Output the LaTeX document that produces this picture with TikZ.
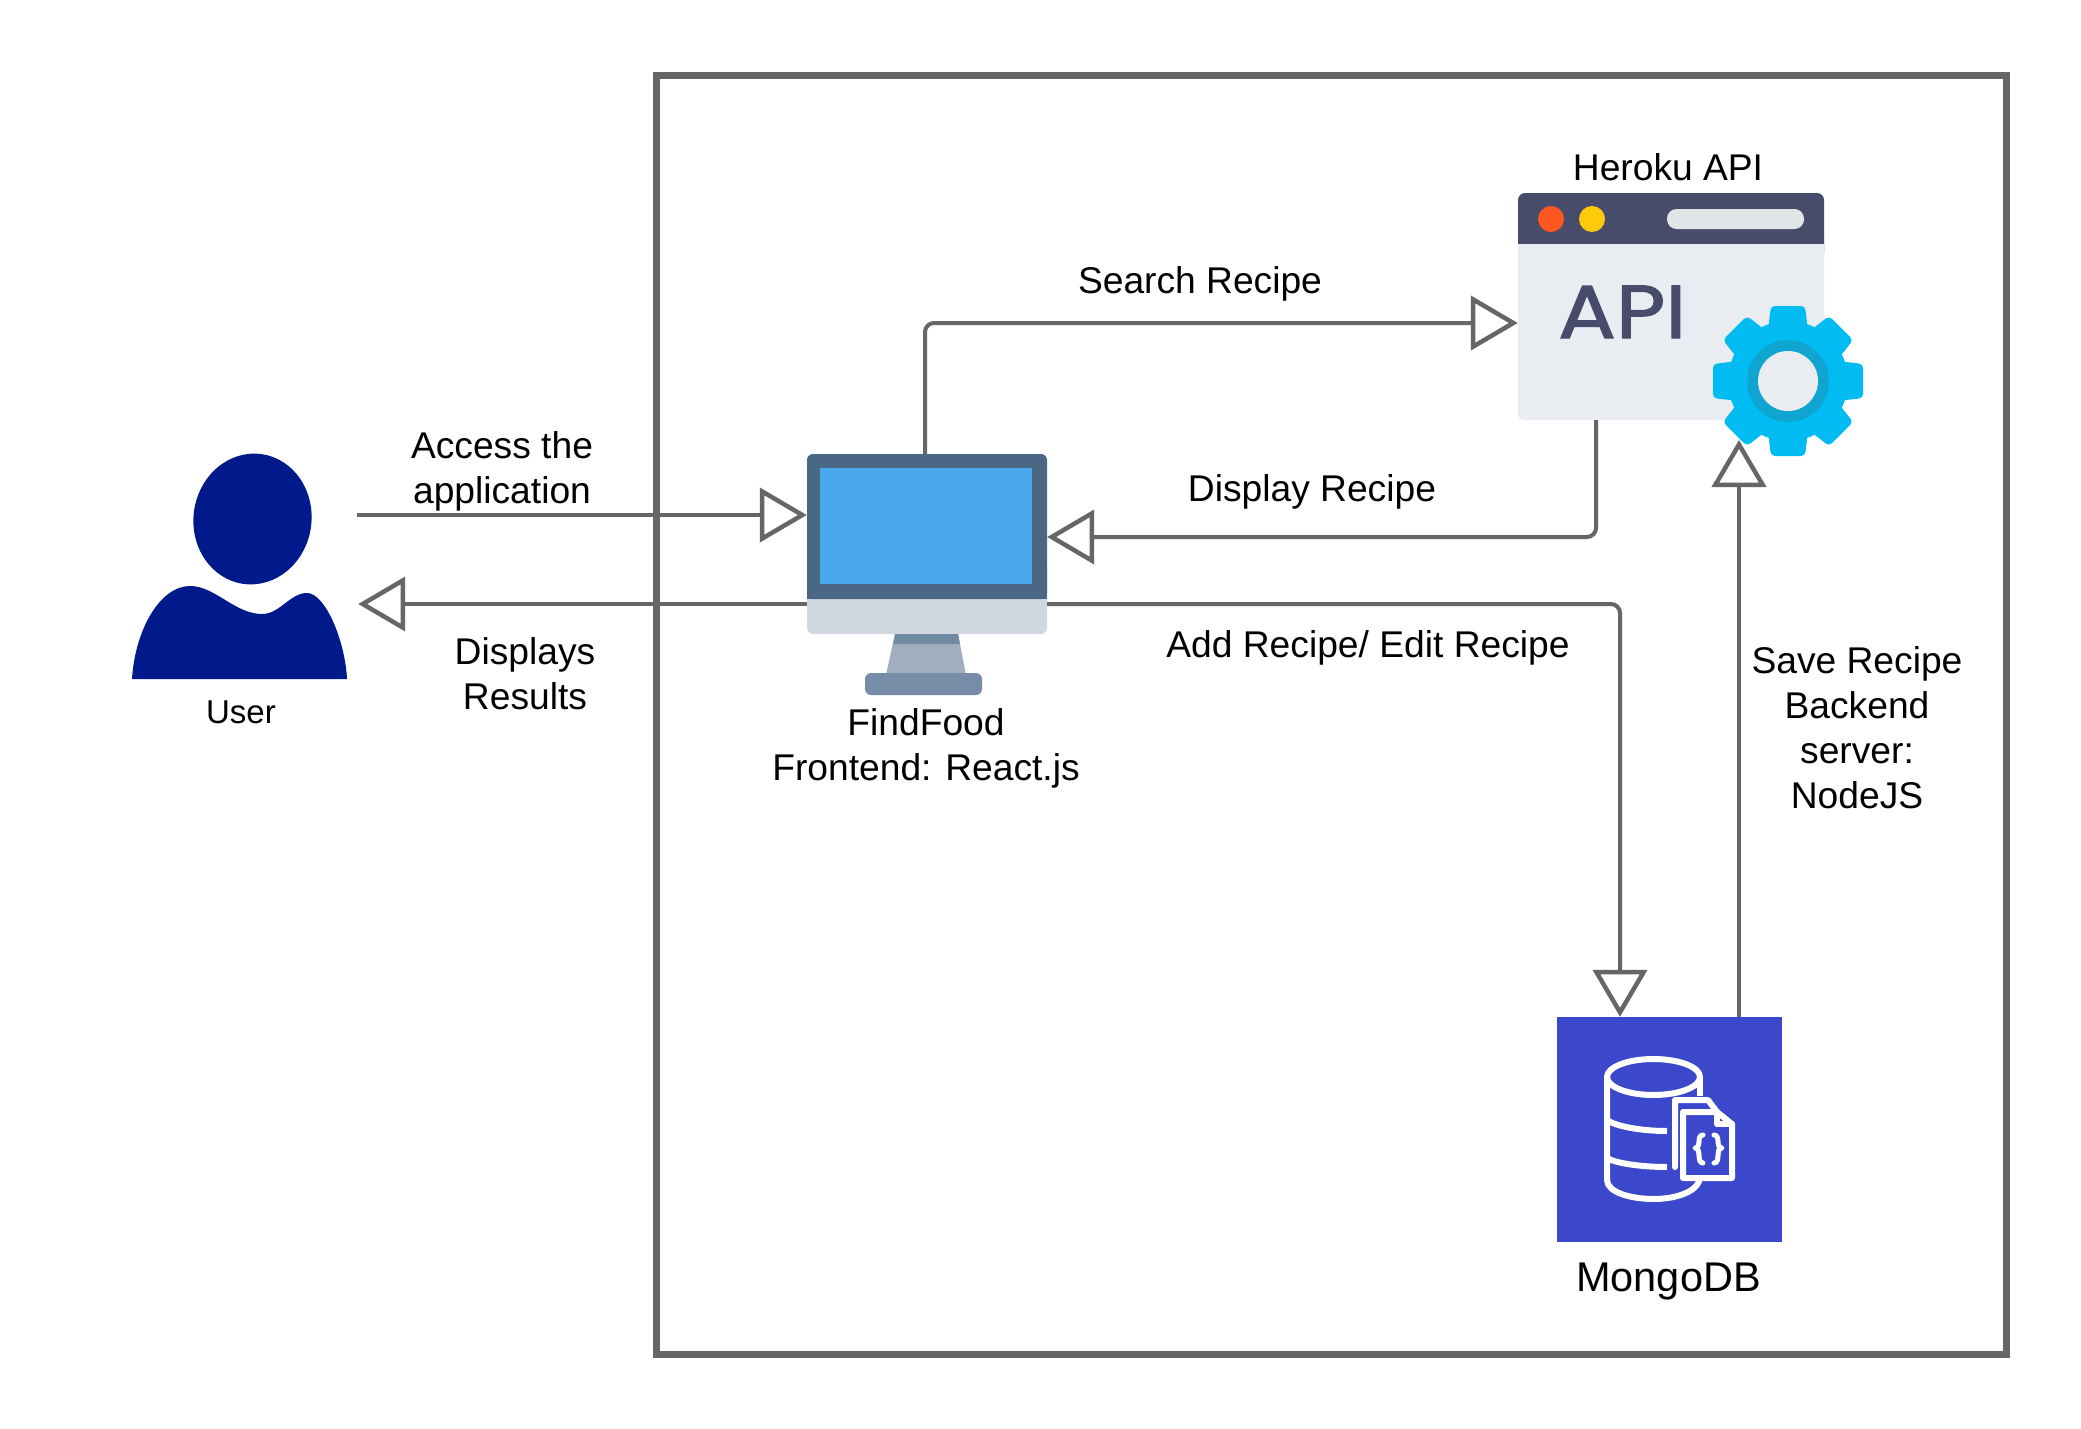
\documentclass[tikz,border=0pt]{standalone}
\usepackage{fontspec}
\setmainfont{Liberation Sans}
\newfontfamily\apifont[FakeBold=1.8,FakeStretch=1.14]{Poppins}
\usetikzlibrary{arrows.meta,calc}
\definecolor{linegrey}{HTML}{666666}
\definecolor{userblue}{HTML}{001A8C}
\definecolor{frameblue}{HTML}{4A6785}
\definecolor{screenblue}{HTML}{49A9EC}
\definecolor{chinlight}{HTML}{D0D7E0}
\definecolor{neckdark}{HTML}{708AA3}
\definecolor{neckmid}{HTML}{A0AEBF}
\definecolor{basegrey}{HTML}{778CA6}
\definecolor{apibg}{HTML}{E9EDF1}
\definecolor{apidark}{HTML}{474C6B}
\definecolor{dotred}{HTML}{FF5722}
\definecolor{dotyellow}{HTML}{FFC90C}
\definecolor{barlight}{HTML}{E1E5E8}
\definecolor{gearblue}{HTML}{00BCF2}
\definecolor{gearring}{HTML}{10A5D0}
\definecolor{mongoblue}{HTML}{3B48CC}
\tikzset{
  x=1pt,y=-1pt,
  conn/.style={draw=linegrey,line width=4pt,rounded corners=9pt,
    -{Triangle[open,length=47pt,width=54pt,line width=4.5pt,fill=white]}},
  lbl/.style={inner sep=0pt,align=center,font=\fontsize{37.2}{45}\selectfont,text=black},
  icon/.style={white,line width=6pt,line cap=round,line join=round}
}
\begin{document}
\begin{tikzpicture}
\useasboundingbox (0,0) rectangle (2081,1429);
\fill[white] (0,0) rectangle (2081,1429);
% frame
\node[draw=linegrey,line width=7pt,minimum width=1350pt,minimum height=1278.5pt,inner sep=0pt,outer sep=0pt] (frame) at (1331.5,714.75) {};
% user
\fill[userblue,rotate around={-8:(252.5,519)}] (252.5,519) ellipse [x radius=59,y radius=65.5];
\fill[userblue] (132,679) .. controls (135,630) and (160,586) .. (190,586)
  .. controls (215,586) and (235,614) .. (262,614)
  .. controls (280,614) and (290,593) .. (307,593)
  .. controls (325,593) and (345,640) .. (347,679) -- cycle;
\node[inner sep=0pt,minimum width=215pt,minimum height=225pt] (user) at (246,566) {};
\node[lbl,font=\fontsize{33}{40}\selectfont] (userlbl) at (241,712) {User};
% monitor
\fill[chinlight,rounded corners=6pt] (807,560) rectangle (1047,634);
\fill[frameblue,rounded corners=6pt] (807,454) -- (1047,454) -- (1047,599) -- (807,599) -- cycle;
\fill[frameblue] (807,580) rectangle (1047,599);
\fill[screenblue] (820,468) rectangle (1032,584);
\fill[neckmid] (895,634) -- (958,634) -- (966,675) -- (886,675) -- cycle;
\fill[neckdark] (895,634) -- (958,634) -- (960,644) -- (893,644) -- cycle;
\fill[basegrey,rounded corners=6pt] (865,673) rectangle (982,695);
\node[inner sep=0pt,minimum width=240pt,minimum height=241pt] (monitor) at (927,574.5) {};
\node[lbl] (monlbl) at (926,748) {FindFood\\Frontend: React.js};
% api window
\fill[apibg,rounded corners=6pt] (1518,230) rectangle (1824,420);
\fill[apidark,rounded corners=7pt] (1518,193) rectangle (1824,260);
\fill[apibg] (1518,244) rectangle (1824,262);
\fill[dotred] (1551,219) circle (13);
\fill[dotyellow] (1592,219) circle (13);
\fill[barlight,rounded corners=9.5pt] (1667,209) rectangle (1804,229);
\node[inner sep=0pt,anchor=base west,text=apidark,font=\apifont\fontsize{75}{75}\selectfont] (apitxt) at (1558,338) {API};
\node[inner sep=0pt,minimum width=306pt,minimum height=227pt] (api) at (1671,306.5) {};
\node[lbl] (apilbl) at (1668,167.5) {Heroku API};
% gear
\fill[gearblue] (1788,381) circle (60);
\foreach \a in {0,45,...,315}{
  \fill[gearblue,rounded corners=4pt,rotate around={\a:(1788,381)}]
    (1768,331) -- (1771,306) -- (1805,306) -- (1808,331) -- cycle;
}
\fill[gearring] (1788,381) circle (41);
\fill[apibg] (1788,381) circle (30);
% mongo
\node[fill=mongoblue,inner sep=0pt,minimum width=225pt,minimum height=225pt] (mongo) at (1669.5,1129.5) {};
\draw[icon] (1653.5,1077) ellipse [x radius=46.5,y radius=18];
\draw[icon,line cap=butt] (1607,1077) -- (1607,1180) .. controls (1607,1192) and (1630,1199) .. (1654,1199) .. controls (1675,1199) and (1700,1192) .. (1700,1176);
\draw[icon,line cap=butt] (1700,1077) -- (1700,1096);
\draw[icon,line cap=butt] (1607,1120) .. controls (1615,1126) and (1640,1131) .. (1667,1131);
\draw[icon,line cap=butt] (1607,1158) .. controls (1615,1163) and (1640,1167) .. (1667,1167);
\fill[mongoblue] (1677,1104) rectangle (1730,1176);
\draw[icon] (1675,1167) -- (1675,1100) -- (1708,1100) -- (1717,1112);
\draw[icon,fill=mongoblue] (1683,1112) -- (1717,1112) -- (1732,1124) -- (1732,1178) -- (1683,1178) -- cycle;
\draw[icon] (1717,1112) -- (1717,1124) -- (1732,1124);
\draw[icon,line width=5pt] (1703,1135) .. controls (1696,1135) and (1702,1148) .. (1695,1148) .. controls (1702,1148) and (1696,1163) .. (1703,1163);
\draw[icon,line width=5pt] (1714,1135) .. controls (1721,1135) and (1715,1148) .. (1722,1148) .. controls (1715,1148) and (1721,1163) .. (1714,1163);
\node[lbl,font=\fontsize{41.5}{48}\selectfont] (mongolbl) at (1668.5,1282) {MongoDB};
% connectors
\draw[conn] ($(user.east)+(3.5,-51)$) -- (monitor.west |- 0,515);
\draw[conn] (monitor.west |- 0,604) -- ($(user.east)+(4.5,38)$);
\draw[conn] (monitor.north -| 925,0) -- (925,323) -- (api.west |- 0,323);
\draw[conn] (api.south -| 1596,0) -- (1596,537) -- (monitor.east |- 0,537);
\draw[conn] (monitor.east |- 0,604) -- (1620,604) -- (mongo.north -| 1620,0);
\draw[conn] (mongo.north -| 1739,0) -- (1739,440);
% labels
\node[lbl] (l1) at (502,471.5) {Access the\\application};
\node[lbl] (l2) at (525,673.5) {Displays\\Results};
\node[lbl] (l3) at (1200,284) {Search Recipe};
\node[lbl] (l4) at (1312,492) {Display Recipe};
\node[lbl] (l5) at (1368,647.5) {Add Recipe/ Edit Recipe};
\node[lbl] (l6) at (1857,727.5) {Save Recipe\\Backend\\server:\\NodeJS};
\end{tikzpicture}
\end{document}
